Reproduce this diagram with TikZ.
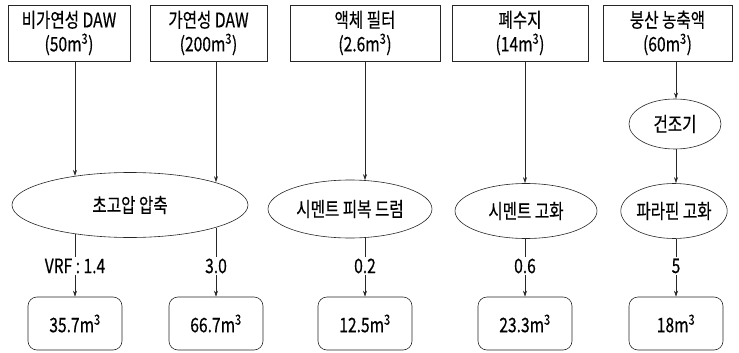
\documentclass[tikz,border=0pt]{standalone}
\usepackage{fontspec}
\setmainfont{Noto Sans CJK KR}[FakeStretch=0.78,FakeBold=0.4]
\usetikzlibrary{shapes.geometric,arrows.meta}
\begin{document}
\begin{tikzpicture}[x=1pt,y=-1pt,
  every node/.style={font=\fontsize{20}{24}\selectfont, text=black},
  topbox/.style={draw, minimum height=56pt, align=center, inner sep=0pt},
  ell/.style={draw, ellipse, inner sep=0pt},
  botbox/.style={draw, rounded corners=9pt, minimum width=94pt, minimum height=53pt, inner sep=0pt},
  lbl/.style={inner sep=1pt},
  arr/.style={-{Stealth[length=6pt,width=4pt]}}]
\useasboundingbox (0,0) rectangle (739,353);
\begin{scope}[line width=0.6pt, draw=black!85]
% top boxes
\node[topbox, minimum width=122pt] (t1) at (69,33) {비가연성 DAW\\(50m\textsuperscript{3})};
\node[topbox, minimum width=117pt] (t2) at (208.5,33) {가연성 DAW\\(200m\textsuperscript{3})};
\node[topbox, minimum width=150pt] (t3) at (365,33) {액체 필터\\(2.6m\textsuperscript{3})};
\node[topbox, minimum width=136pt] (t4) at (520,33) {폐수지\\(14m\textsuperscript{3})};
\node[topbox, minimum width=129pt] (t5) at (667.5,33) {붕산 농축액\\(60m\textsuperscript{3})};
% ellipses
\node[ell, minimum width=236pt, minimum height=65pt] (e1) at (130,205) {초고압 압축};
\node[ell, minimum width=164pt, minimum height=58pt] (e2) at (350,209) {시멘트 피복 드럼};
\node[ell, minimum width=142pt, minimum height=55pt] (e3) at (526,211) {시멘트 고화};
\node[ell, minimum width=92pt, minimum height=50pt] (d5) at (675,124) {건조기};
\node[ell, minimum width=94pt, minimum height=55pt] (e4) at (674,211) {파라핀 고화};
% bottom boxes
\node[botbox] (b1) at (75,323.5) {35.7m\textsuperscript{3}};
\node[botbox] (b2) at (216,323.5) {66.7m\textsuperscript{3}};
\node[botbox] (b3) at (365,323.5) {12.5m\textsuperscript{3}};
\node[botbox] (b4) at (525,323.5) {23.3m\textsuperscript{3}};
\node[botbox] (b5) at (676,323.5) {18m\textsuperscript{3}};
% labels
\node[lbl] (l1) at (75,266) {VRF : 1.4};
\node[lbl] (l2) at (216,266) {3.0};
\node[lbl] (l3) at (365,266) {0.2};
\node[lbl] (l4) at (525,266) {0.6};
\node[lbl] (l5) at (676,266) {5};
% connectors top -> process
\draw[arr] (t1.south -| b1.north) -- (b1.north |- e1.152);
\draw[arr] (t2.south -| b2.north) -- (b2.north |- e1.15);
\draw[arr] (t3.south -| b3.north) -- (b3.north |- e2.62);
\draw[arr] (t4.south -| b4.north) -- (b4.north |- e3.north);
\draw[arr] (t5.south -| b5.north) -- (b5.north |- d5.north);
\draw[arr] (d5.south -| b5.north) -- (b5.north |- e4.north);
% process -> label -> result
\draw (b1.north |- e1.-152) -- (l1.north);
\draw[arr] (l1.south) -- (b1.north);
\draw (b2.north |- e1.-15) -- (l2.north);
\draw[arr] (l2.south) -- (b2.north);
\draw (b3.north |- e2.-62) -- (l3.north);
\draw[arr] (l3.south) -- (b3.north);
\draw (b4.north |- e3.south) -- (l4.north);
\draw[arr] (l4.south) -- (b4.north);
\draw (b5.north |- e4.south) -- (l5.north);
\draw[arr] (l5.south) -- (b5.north);
\end{scope}
\end{tikzpicture}
\end{document}
